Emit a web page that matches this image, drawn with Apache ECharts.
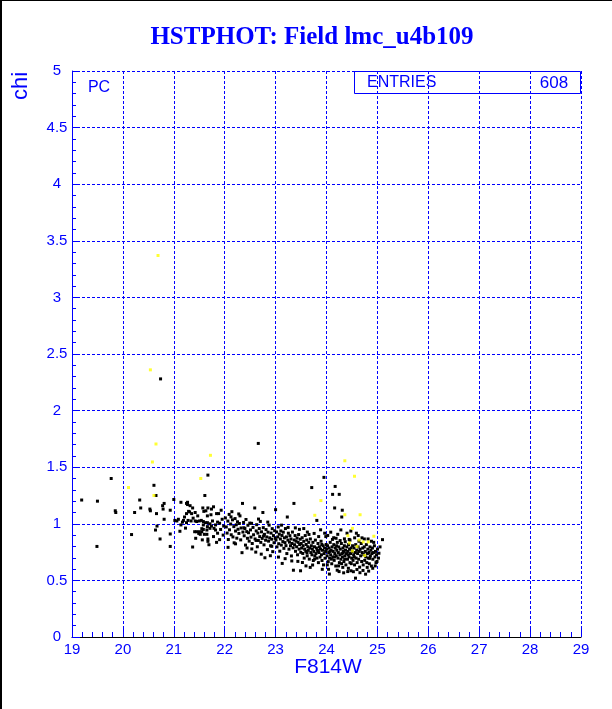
<!DOCTYPE html>
<html><head><meta charset="utf-8">
<script src="https://cdn.jsdelivr.net/npm/echarts@6/dist/echarts.min.js"></script>
<style>html,body{margin:0;padding:0;background:#fff}#c{width:612px;height:709px}</style>
</head><body><div id="c"></div>
<script>
const titleText = "HSTPHOT: Field lmc_u4b109";
const xName = "F814W";
const yName = "chi";
const statLabel = "ENTRIES";
const statValue = "608";
const cornerLabel = "PC";
const xRange = [19, 29];
const yRange = [0, 5];

const blackPtsBright = [
[19.19,1.21],[19.50,1.20],[19.49,0.80],[19.77,1.40],[19.85,1.115],[19.86,1.10],[20.17,0.905],
[20.33,1.21],[20.35,1.14],[20.23,1.10],[20.61,1.34],[20.65,1.25],[20.53,1.13],[20.54,1.115],
[20.66,1.09],[20.79,1.13],[20.81,1.18],[20.78,1.16],[20.93,1.12],[20.81,1.04],[20.67,0.98],
[20.64,0.945],[20.93,0.91],[20.73,0.866],[20.93,0.80],[20.74,2.28],[21.00,1.215],[21.61,1.25],
[21.67,1.43],[22.66,1.71],
[21.02,1.03],[21.14,1.19],[21.25,1.18],[21.27,1.17],[21.21,1.06],[21.19,1.03],[21.09,1.04],
[21.06,1.025],[21.14,0.99],[21.17,1.015],[21.32,1.16],[21.37,1.14],[21.29,1.11],[21.31,1.105],
[21.25,1.09],[21.35,1.09],[21.42,1.10],[21.38,1.05],[21.47,1.07],[21.57,1.14],[21.59,1.11],
[21.67,1.14],[21.73,1.08],[21.66,1.07],[21.63,1.115],[21.78,1.15],[21.74,1.13],[21.84,1.09],
[21.88,1.09],[21.76,1.025],[21.54,1.03],[21.58,1.02],[21.28,1.03],[21.25,1.01],[21.34,1.025],
[21.42,1.025],[21.45,1.02],[21.50,1.025],[21.62,1.01],[21.66,1.01],[21.74,0.98],[21.71,1.00],
[21.66,0.975],[21.58,0.99],[21.55,0.957],[21.41,0.93],[21.45,0.93],[21.50,0.93],[21.55,0.93],
[21.58,0.95],[21.65,0.945],[21.71,0.96],[21.79,0.96],[21.82,0.945],[21.82,0.99],[21.67,0.866],
[21.67,0.845],[21.37,0.795],[21.69,0.815],[21.65,0.907],[21.60,0.907],[21.52,0.907],[21.49,0.915],
[21.86,1.015],[21.90,1.005],[21.27,1.19],[21.92,0.95],[21.95,1.04],[21.97,0.90],[21.93,1.12],
[21.98,0.98],[21.90,0.86],[21.43,0.872],[21.56,0.858],[21.78,0.887],[21.84,0.836],[21.12,0.934],
[21.23,0.962],[21.86,0.917]
];

const blackPtsMid = [
[22.013,1.052],[22.031,0.972],[22.047,0.918],[22.062,1.024],[22.071,0.861],[22.088,1.083],[22.094,0.947],
[22.117,0.998],[22.128,0.903],[22.141,1.107],[22.153,1.035],[22.162,0.884],[22.179,0.975],[22.186,0.832],
[22.204,1.046],[22.213,0.936],[22.227,0.991],[22.238,0.873],[22.251,1.018],[22.262,0.952],[22.279,0.915],
[22.288,1.003],[22.300,1.070],[22.314,0.858],[22.322,0.963],[22.340,0.745],[22.350,1.180],[22.358,0.927],
[22.371,1.012],[22.383,0.894],[22.397,0.958],[22.409,0.812],[22.418,1.038],[22.433,0.931],[22.447,0.872],
[22.456,0.987],[22.468,0.921],[22.481,0.847],[22.493,1.006],[22.066,0.792],[22.213,0.823],[22.377,0.965],
[22.124,1.061],[22.276,1.087],[22.439,0.786],
[22.507,0.946],[22.516,0.882],[22.528,1.004],[22.541,0.826],[22.556,0.968],[22.567,0.903],[22.590,1.140],
[22.597,0.866],[22.610,0.750],[22.619,0.937],[22.628,0.992],[22.641,0.797],[22.652,0.918],[22.661,0.853],
[22.679,0.958],[22.688,0.887],[22.700,1.021],[22.709,0.836],[22.723,0.929],[22.737,0.871],[22.750,1.100],
[22.758,0.966],[22.772,0.814],[22.781,0.907],[22.790,0.700],[22.803,0.855],[22.812,0.949],[22.826,0.884],
[22.839,0.772],[22.851,0.926],[22.862,0.847],[22.873,0.988],[22.884,0.876],[22.902,0.806],[22.911,0.918],
[22.923,0.864],[22.934,0.957],[22.944,0.754],[22.958,0.896],[22.969,0.833],[22.981,0.939],[22.993,0.872],
[22.532,0.778],[22.664,1.042],[22.718,0.732],[22.846,1.015],[22.897,0.718],[22.617,0.853],[22.763,0.892],
[22.925,0.801],
[23.000,1.125],[23.008,0.857],[23.019,0.928],[23.027,0.796],[23.041,0.884],[23.052,0.972],[23.061,0.824],
[23.073,0.908],[23.082,0.758],[23.094,0.866],[23.103,0.937],[23.112,0.812],[23.126,0.897],[23.130,0.650],
[23.142,0.843],[23.151,0.926],[23.163,0.783],[23.172,0.876],[23.184,0.834],[23.193,0.958],[23.204,0.807],
[23.213,0.884],[23.221,0.737],[23.230,1.060],[23.242,0.856],[23.251,0.917],[23.263,0.776],[23.272,0.838],
[23.281,0.895],[23.293,0.806],[23.302,0.866],[23.311,0.716],[23.323,0.826],[23.331,0.927],[23.344,0.788],
[23.350,0.590],[23.360,1.180],[23.364,0.857],[23.372,0.815],[23.383,0.896],[23.391,0.757],[23.402,0.846],
[23.414,0.797],[23.422,0.874],[23.431,0.726],[23.443,0.836],[23.452,0.905],[23.461,0.776],[23.472,0.817],
[23.484,0.864],[23.490,0.585],[23.494,0.748],[23.056,0.706],[23.117,0.988],[23.187,0.692],[23.246,0.968],
[23.318,0.672],[23.388,0.964],[23.437,0.668],[23.468,0.951]
];

const blackPtsFaint = [
[23.503,0.826],[23.511,0.786],[23.522,0.877],[23.534,0.738],[23.541,0.806],[23.553,0.845],[23.562,0.697],
[23.570,0.776],[23.582,0.896],[23.593,0.757],[23.601,0.817],[23.612,0.857],[23.621,0.717],[23.633,0.797],
[23.642,0.766],[23.651,0.836],[23.662,0.688],[23.671,0.786],[23.680,0.615],[23.683,0.866],[23.692,0.746],
[23.703,0.806],[23.710,1.320],[23.714,0.726],[23.722,0.776],[23.733,0.836],[23.741,0.676],[23.752,0.756],
[23.763,0.797],[23.771,0.716],[23.782,0.856],[23.793,0.737],[23.802,0.786],[23.810,1.030],[23.813,0.697],
[23.822,0.766],[23.833,0.826],[23.841,0.657],[23.852,0.746],[23.861,0.797],[23.873,0.706],[23.882,0.776],
[23.893,0.846],[23.901,0.726],[23.912,0.676],[23.921,0.766],[23.933,0.806],[23.941,0.637],[23.950,1.410],
[23.953,0.737],[23.962,0.786],[23.971,0.696],[23.982,0.756],[23.993,0.817],[23.964,0.917],[23.884,0.947],
[23.624,0.927],[23.553,0.958],[23.527,0.658],[23.597,0.628],[23.656,0.906],[23.727,0.636],[23.757,0.915],
[23.846,0.887],[23.917,0.598],[23.986,0.887],[23.617,0.745],[23.767,0.688],[23.837,0.757],[23.908,0.817],
[24.003,0.776],[24.012,0.717],[24.021,0.806],[24.034,0.666],[24.040,0.598],[24.043,0.746],[24.052,0.786],
[24.061,0.697],[24.073,0.836],[24.082,0.726],[24.091,0.766],[24.103,0.647],[24.111,0.796],[24.120,1.260],
[24.123,0.707],[24.132,0.756],[24.143,0.816],[24.151,0.677],[24.160,1.140],[24.163,0.737],[24.170,1.330],
[24.174,0.786],[24.182,0.627],[24.193,0.717],[24.202,0.766],[24.210,0.590],[24.213,0.836],[24.224,0.697],
[24.233,0.746],[24.241,0.796],[24.250,1.260],[24.253,0.657],[24.262,0.726],[24.271,0.776],[24.283,0.687],
[24.292,0.826],[24.300,1.060],[24.303,0.737],[24.310,1.120],[24.313,0.707],[24.320,0.615],[24.324,0.786],
[24.333,0.756],[24.342,0.667],[24.351,0.806],[24.362,0.717],[24.373,0.766],[24.381,0.637],[24.392,0.737],
[24.401,0.796],[24.413,0.687],[24.422,0.756],[24.430,0.607],[24.434,0.816],[24.442,0.707],[24.453,0.776],
[24.461,0.657],[24.472,0.737],[24.480,0.585],[24.483,0.786],[24.494,0.697],[24.024,0.897],[24.083,0.926],
[24.141,0.877],[24.221,0.907],[24.282,0.946],[24.352,0.867],[24.403,0.917],[24.462,0.856],[24.057,0.556],
[24.117,0.862],[24.188,0.872],[24.247,0.578],[24.268,0.852],[24.337,0.567],[24.368,0.842],[24.417,0.578],
[24.446,0.862],[24.478,0.936],[24.016,0.637],[24.096,0.688],[24.157,0.707],[24.237,0.628],[24.297,0.648],
[24.357,0.688],[24.427,0.727],[24.487,0.648],[24.068,0.756],[24.198,0.806],[24.328,0.746],
[24.503,0.756],[24.512,0.806],[24.521,0.677],[24.533,0.726],[24.542,0.786],[24.551,0.637],[24.563,0.746],
[24.570,0.520],[24.574,0.816],[24.582,0.697],[24.593,0.766],[24.602,0.657],[24.611,0.737],[24.622,0.796],
[24.631,0.687],[24.643,0.756],[24.651,0.617],[24.662,0.776],[24.671,0.717],[24.682,0.826],[24.691,0.667],
[24.703,0.746],[24.712,0.786],[24.721,0.637],[24.733,0.727],[24.742,0.796],[24.751,0.677],[24.763,0.756],
[24.772,0.707],[24.783,0.816],[24.791,0.657],[24.800,0.615],[24.803,0.737],[24.812,0.776],[24.821,0.697],
[24.833,0.746],[24.842,0.647],[24.850,0.695],[24.853,0.796],[24.862,0.717],[24.871,0.766],[24.882,0.627],
[24.893,0.737],[24.902,0.786],[24.911,0.687],[24.922,0.746],[24.941,0.806],[24.952,0.707],[24.963,0.756],
[24.972,0.657],[24.983,0.727],[25.002,0.776],[25.021,0.697],[25.030,0.740],[25.052,0.796],[25.100,0.860],
[24.553,0.876],[24.623,0.896],[24.743,0.866],[24.883,0.846],[24.528,0.577],[24.598,0.596],[24.657,0.568],
[24.717,0.588],[24.768,0.555],[24.828,0.582],[24.908,0.607],[24.957,0.628],[24.587,0.917],[24.637,0.846],
[24.697,0.876],[24.817,0.866],[24.928,0.836],[24.992,0.667],[24.546,0.706]
];

const yellowPts = [
[20.69,3.37],[20.54,2.36],[20.65,1.705],[20.58,1.546],[21.72,1.605],[21.53,1.40],[20.11,1.32],
[20.61,1.25],[24.36,1.557],[24.55,1.42],[23.89,1.205],[24.36,1.08],[24.66,1.08],[23.77,1.075],
[24.51,0.96],[24.93,0.89],[24.72,0.84],[24.82,0.84],[24.42,0.895],[24.51,0.76],[24.64,0.857],
[24.60,0.80],[24.75,0.72],[24.45,0.83]
];

const BLUE = '#0000ff';
const chart = echarts.init(document.getElementById('c'), null, {renderer:'canvas'});
const blackSeries = (d) => ({type: 'scatter', data: d, symbol: 'rect', symbolSize: 3,
  itemStyle: {color: '#000000', opacity: 1}, silent: true, z: 3, large: false});
const option = {
  animation: false,
  backgroundColor: '#ffffff',
  grid: {left: 72, right: 31, top: 71, bottom: 72},
  xAxis: {
    type: 'value', min: xRange[0], max: xRange[1], interval: 1,
    axisLine: {show: true, onZero: false, lineStyle: {color: '#000000', width: 1}},
    axisTick: {show: true, inside: true, length: 10, lineStyle: {color: BLUE}},
    minorTick: {show: true, splitNumber: 5, length: 5, lineStyle: {color: BLUE}},
    splitLine: {show: true, lineStyle: {color: BLUE, type: [3, 2], width: 1}},
    axisLabel: {color: BLUE, fontSize: 15, fontFamily: 'Liberation Sans', margin: 5}
  },
  yAxis: {
    type: 'value', min: yRange[0], max: yRange[1], interval: 0.5,
    axisLine: {show: true, onZero: false, lineStyle: {color: BLUE, width: 1}},
    axisTick: {show: true, inside: true, length: 8, lineStyle: {color: BLUE}},
    minorTick: {show: true, splitNumber: 5, length: 4, lineStyle: {color: BLUE}},
    splitLine: {show: true, lineStyle: {color: BLUE, type: [3, 2], width: 1}},
    axisLabel: {color: BLUE, fontSize: 15, fontFamily: 'Liberation Sans', margin: 15, align: 'center'}
  },
  series: [
    blackSeries(blackPtsBright),
    blackSeries(blackPtsMid),
    blackSeries(blackPtsFaint),
    {type: 'scatter', data: yellowPts, symbol: 'rect', symbolSize: 3,
     itemStyle: {color: '#ffff00'}, silent: true, z: 4}
  ],
  graphic: [
    {type: 'rect', shape: {x: 0, y: 0, width: 2, height: 709}, style: {fill: '#000'}, z: 100},
    {type: 'rect', shape: {x: 0, y: 0, width: 612, height: 1}, style: {fill: '#000'}, z: 100},
    {type: 'text', x: 312, y: 38, style: {text: titleText, fill: BLUE, font: 'bold 25px "Liberation Serif"', align: 'center', verticalAlign: 'middle'}, z: 100},
    {type: 'text', x: 21, y: 86, rotation: Math.PI / 2, style: {text: yName, fill: BLUE, font: '22px "Liberation Sans"', align: 'center', verticalAlign: 'middle'}, z: 100},
    {type: 'text', x: 328, y: 667, style: {text: xName, fill: BLUE, font: '21px "Liberation Sans"', align: 'center', verticalAlign: 'middle'}, z: 100},
    {type: 'text', x: 99, y: 88, style: {text: cornerLabel, fill: BLUE, font: '16px "Liberation Sans"', align: 'center', verticalAlign: 'middle'}, z: 100},
    {type: 'rect', shape: {x: 354.5, y: 71.5, width: 226, height: 22}, style: {fill: 'none', stroke: BLUE, lineWidth: 1}, z: 100},
    {type: 'text', x: 367, y: 83, style: {text: statLabel, fill: BLUE, font: '16px "Liberation Sans"', align: 'left', verticalAlign: 'middle'}, z: 100},
    {type: 'text', x: 554, y: 83, style: {text: statValue, fill: BLUE, font: '17px "Liberation Sans"', align: 'center', verticalAlign: 'middle'}, z: 100}
  ]
};
chart.setOption(option);
</script>
</body></html>
